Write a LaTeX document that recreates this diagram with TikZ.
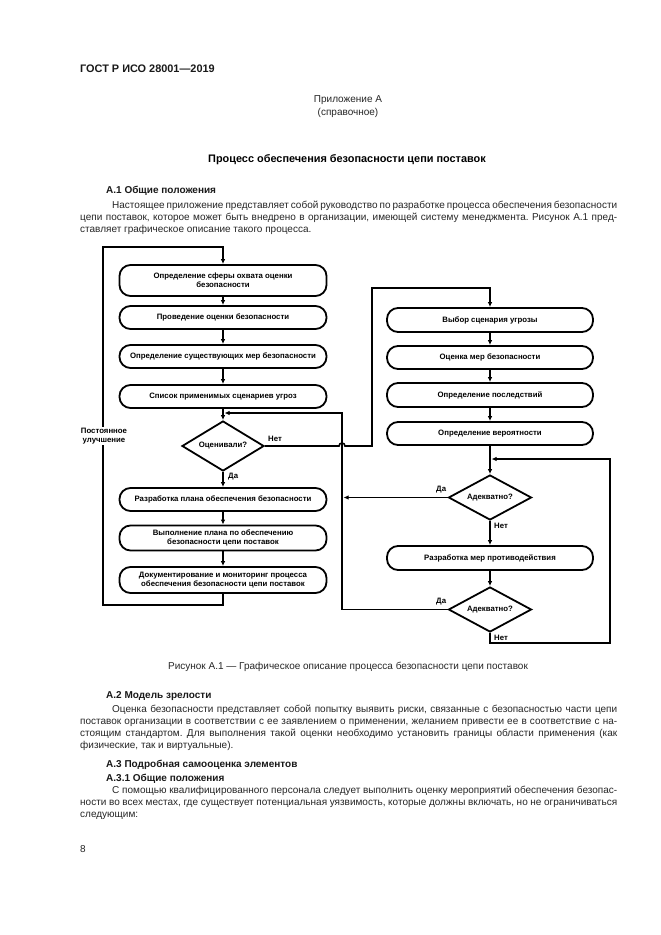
\documentclass[tikz,border=0pt]{standalone}
\usepackage{fontspec}
\setmainfont{Liberation Sans}
\usetikzlibrary{shapes.geometric,arrows.meta,calc}
\frenchspacing
\newcommand{\bodyf}{\fontsize{10}{12}\selectfont}
\newcommand{\headf}{\fontsize{10.9}{12}\selectfont\bfseries}
\newcommand{\boxf}{\fontsize{7.8}{9.2}\selectfont\bfseries}
\tikzset{
  txt/.style={anchor=base west,inner sep=0pt,font=\bodyf,text=black!85},
  ctxt/.style={anchor=base,inner sep=0pt,font=\bodyf,text=black!85},
  hd/.style={anchor=base west,inner sep=0pt,font=\headf,text=black!90},
  subhd/.style={anchor=base west,inner sep=0pt,font=\fontsize{10}{12}\selectfont\bfseries,text=black!90},
  procbox/.style={draw,line width=1.8pt,rounded corners=11pt,minimum width=207pt,minimum height=23pt,align=center,font=\boxf,inner sep=1pt},
  decbox/.style={draw,diamond,aspect=1.7,line width=1.8pt,minimum width=82pt,minimum height=48pt,inner sep=0pt,font=\boxf},
  arr/.style={line width=1.6pt,-{Latex[length=5pt,width=4.5pt]}},
  lbl/.style={font=\boxf,inner sep=0pt}
}
\begin{document}
\begin{tikzpicture}[x=1pt,y=-1pt]
\useasboundingbox (0,0) rectangle (661,935);
\fill[white] (0,0) rectangle (661,935);
% header text
\node[hd] (h0) at (80,72) {ГОСТ Р ИСО 28001—2019};
\node[ctxt] (h1) at (348,102) {Приложение А};
\node[ctxt] (h2) at (348,115) {(справочное)};
\node[anchor=base,inner sep=0pt,font=\headf] (h3) at (347,162) {Процесс обеспечения безопасности цепи поставок};
\node[subhd] (h4) at (106,193) {А.1 Общие положения};
\node[txt] (p1) at (112,208) {\makebox[505pt][s]{Настоящее приложение представляет собой руководство по разработке процесса обеспечения безопасности}};
\node[txt] (p2) at (80,220) {\makebox[537pt][s]{цепи поставок, которое может быть внедрено в организации, имеющей систему менеджмента. Рисунок А.1 пред-}};
\node[txt] (p3) at (80,232) {ставляет графическое описание такого процесса.};

% ---------- figure ----------
% left column
\node[procbox,minimum height=31pt] (b1) at (223,280.5) {Определение сферы охвата оценки\\безопасности};
\node[procbox] (b2) at (223,317.5) {Проведение оценки безопасности};
\node[procbox] (b3) at (223,356.5) {Определение существующих мер безопасности};
\node[procbox] (b4) at (223,396.5) {Список применимых сценариев угроз};
\node[decbox,minimum height=50pt] (d1) at (223,446) {Оценивали?};
\node[procbox] (b5) at (223,499.5) {Разработка плана обеспечения безопасности};
\node[procbox,minimum height=25pt] (b6) at (223,538) {Выполнение плана по обеспечению\\безопасности цепи поставок};
\node[procbox,minimum height=26pt] (b7) at (223,580) {Документирование и мониторинг процесса\\обеспечения безопасности цепи поставок};
% right column
\node[procbox,minimum width=206pt,minimum height=24pt] (r1) at (490,320) {Выбор сценария угрозы};
\node[procbox,minimum width=206pt] (r2) at (490,357.5) {Оценка мер безопасности};
\node[procbox,minimum width=206pt,minimum height=24pt] (r3) at (490,395) {Определение последствий};
\node[procbox,minimum width=206pt] (r4) at (490,433.5) {Определение вероятности};
\node[decbox,minimum width=83pt,minimum height=45pt] (a1) at (490,497.5) {Адекватно?};
\node[procbox,minimum width=206pt,minimum height=24pt] (r5) at (490,558) {Разработка мер противодействия};
\node[decbox,minimum width=83pt,minimum height=45pt] (a2) at (490,609.5) {Адекватно?};

% coordinates
\coordinate (L1) at (103,605);
\coordinate (L2) at (103,247);
\coordinate (hopL) at (339,446);
\coordinate (n1) at (372,288);
\coordinate (v2) at (342,413);
\coordinate (m1) at (224.5,413);
\coordinate (rr) at (610,643);
\coordinate (m3) at (491.5,459);

% left flow
\draw[arr] (b1) -- (b2);
\draw[arr] (b2) -- (b3);
\draw[arr] (b3) -- (b4);
\draw[arr] (b4) -- (d1);
\draw[arr] (d1) -- (b5);
\draw[arr] (b5) -- (b6);
\draw[arr] (b6) -- (b7);
\draw[arr] (b7.south) |- (L1) -- (L2) -| (b1.north);
% right flow
\draw[arr] (r1) -- (r2);
\draw[arr] (r2) -- (r3);
\draw[arr] (r3) -- (r4);
\draw[arr] (r4) -- (a1);
\draw[arr] (a1) -- (r5);
\draw[arr] (r5) -- (a2);
% No from Оценивали?
\draw[arr] (d1.east) -- (hopL) arc[start angle=180,end angle=0,radius=3pt] -| (n1) -| (r1.north);
% Yes from Адекватно? (1)
\draw[arr] (a1.west) -- ($(a1.west -| v2)+(1.5,0)$);
% Yes from Адекватно? (2)
\draw[arr] (a2.west) -| (v2) -- (m1);
% No from Адекватно? (2)
\draw[arr] (a2.south) |- (rr) |- (m3);

% labels
\node[lbl,fill=white,align=center,inner sep=1pt] (pu) at (104,436) {Постоянное\\улучшение};
\node[lbl,anchor=west] (l1) at (268,439) {Нет};
\node[lbl,anchor=west] (l2) at (228,476.5) {Да};
\node[lbl,anchor=west] (l3) at (436,490) {Да};
\node[lbl,anchor=west] (l4) at (494,525.5) {Нет};
\node[lbl,anchor=west] (l5) at (436,602) {Да};
\node[lbl,anchor=west] (l6) at (494,637.5) {Нет};

% caption and text below
\node[ctxt] (cap) at (348,669.5) {Рисунок А.1 — Графическое описание процесса безопасности цепи поставок};
\node[subhd] (s2) at (106,698.5) {А.2 Модель зрелости};
\node[txt] (q1) at (112,712.5) {\makebox[505pt][s]{Оценка безопасности представляет собой попытку выявить риски, связанные с безопасностью части цепи}};
\node[txt] (q2) at (80,724.5) {\makebox[537pt][s]{поставок организации в соответствии с ее заявлением о применении, желанием привести ее в соответствие с на-}};
\node[txt] (q3) at (80,736.5) {\makebox[537pt][s]{стоящим стандартом. Для выполнения такой оценки необходимо установить границы области применения (как}};
\node[txt] (q4) at (80,748.5) {физические, так и виртуальные).};
\node[subhd] (s3) at (106,767.5) {А.3 Подробная самооценка элементов};
\node[subhd] (s31) at (106,781.5) {А.3.1 Общие положения};
\node[txt] (t1) at (112,793.5) {\makebox[505pt][s]{С помощью квалифицированного персонала следует выполнить оценку мероприятий обеспечения безопас-}};
\node[txt] (t2) at (80,805.5) {\makebox[537pt][s]{ности во всех местах, где существует потенциальная уязвимость, которые должны включать, но не ограничиваться}};
\node[txt] (t3) at (80,817.5) {следующим:};
\node[txt] (pg) at (80,852.5) {8};
\end{tikzpicture}
\end{document}
